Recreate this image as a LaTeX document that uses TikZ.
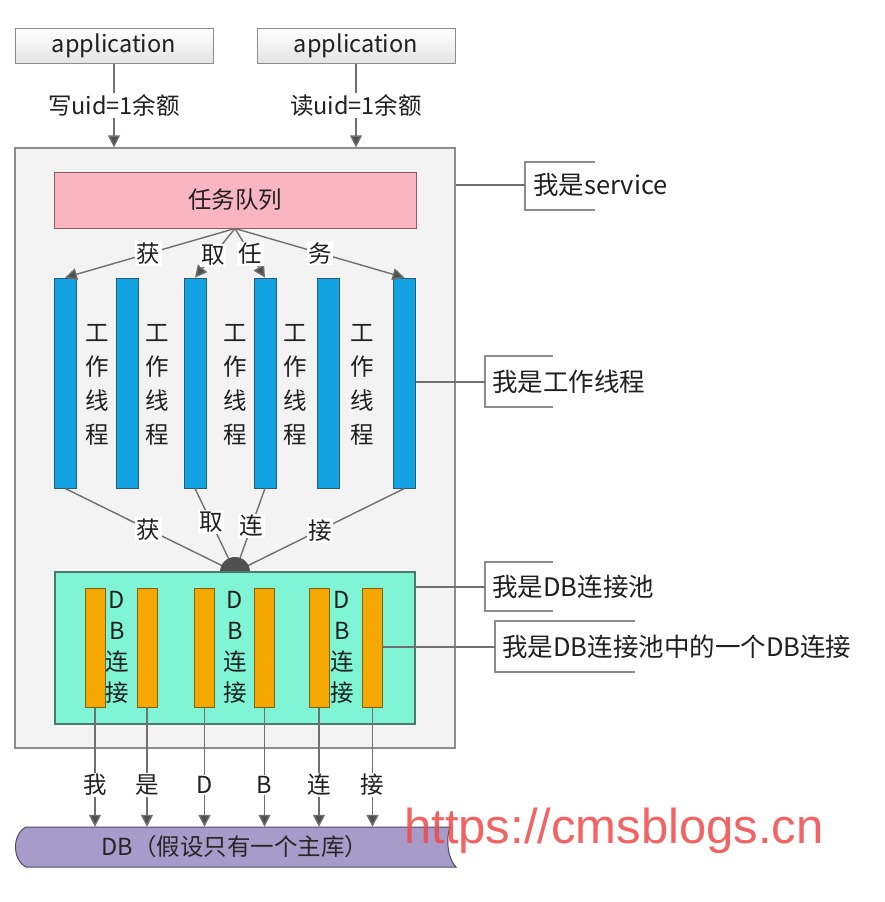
\documentclass[tikz,border=0pt]{standalone}
\usepackage{fontspec}
\setmainfont{Noto Sans CJK SC}
\newfontfamily\wmfont{Liberation Sans}
\usetikzlibrary{arrows.meta,calc}
\definecolor{svcfill}{HTML}{F3F3F3}
\definecolor{svcborder}{HTML}{8C8C8C}
\definecolor{appgray}{HTML}{E4E4E4}
\definecolor{queuefill}{HTML}{F9B5C1}
\definecolor{queueborder}{HTML}{8B5A64}
\definecolor{barblue}{HTML}{14A3E2}
\definecolor{bluedark}{HTML}{25607A}
\definecolor{poolfill}{HTML}{80F5D6}
\definecolor{poolborder}{HTML}{4D7A6E}
\definecolor{barorange}{HTML}{F5A800}
\definecolor{orangedark}{HTML}{7A6020}
\definecolor{dbpurple}{HTML}{A79CC9}
\definecolor{dbborder}{HTML}{4F4A66}
\definecolor{linegray}{HTML}{707070}
\definecolor{hubgray}{HTML}{505050}
\definecolor{txt}{HTML}{202020}
\definecolor{wmred}{HTML}{F04848}
\begin{document}
\begin{tikzpicture}[x=1pt,y=-1pt,
  font=\fontsize{23.5}{28}\selectfont, text=txt,
  appbox/.style={draw=svcborder, line width=1pt, top color=white, bottom color=appgray, minimum width=198pt, minimum height=35pt, inner sep=0pt},
  conn/.style={draw=linegray, line width=1.4pt},
  arr/.style={conn, -{Triangle[width=12pt,length=12pt,fill=hubgray]}},
  lbl/.style={fill=white, inner sep=1.5pt},
  bluebar/.style={draw=bluedark, line width=0.8pt, fill=barblue, minimum width=22pt, minimum height=210pt, inner sep=0pt},
  orangebar/.style={draw=orangedark, line width=0.8pt, fill=barorange, minimum width=20pt, minimum height=119pt, inner sep=0pt},
  vtext/.style={align=center, inner sep=0pt, font=\fontsize{23.5}{34}\selectfont},
  dtext/.style={align=center, inner sep=0pt, font=\fontsize{23.5}{31}\selectfont},
  note/.style={anchor=west, inner sep=0pt, font=\fontsize{25.5}{30}\selectfont},
  bracket/.style={draw=svcborder, line width=1.3pt}
]
\useasboundingbox (0,0) rectangle (884,902);
\fill[white] (0,0) rectangle (884,902);

% service box
\node[draw=svcborder, line width=1.2pt, fill=svcfill, minimum width=440pt, minimum height=600pt, inner sep=0pt] (svc) at (235,448) {};

% applications
\node[appbox] (app1) at (114,45.5) {application};
\node[appbox] (app2) at (356,45.5) {application};
\draw[arr] (app1.south) -- (app1.south |- svc.north) node[lbl,pos=0.5] {写uid=1余额};
\draw[arr] (app2.south) -- (app2.south |- svc.north) node[lbl,pos=0.5] {读uid=1余额};

% task queue
\node[draw=queueborder, line width=1pt, fill=queuefill, minimum width=362pt, minimum height=56pt, inner sep=0pt] (queue) at (235,200) {任务队列};

% worker bars
\node[bluebar] (b1) at (65,383) {};
\node[bluebar] (b2) at (127,383) {};
\node[bluebar] (b3) at (195,383) {};
\node[bluebar] (b4) at (265,383) {};
\node[bluebar] (b5) at (328.5,383) {};
\node[bluebar] (b6) at (404.5,383) {};
\node[vtext] (w1) at (97,385) {工\\作\\线\\程};
\node[vtext] (w2) at (157,385) {工\\作\\线\\程};
\node[vtext] (w3) at (235,385) {工\\作\\线\\程};
\node[vtext] (w4) at (295,385) {工\\作\\线\\程};
\node[vtext] (w5) at (362,385) {工\\作\\线\\程};

% task arrows
\coordinate (qs) at (queue.south);
\draw[arr] (qs) -- (b1.north) node[lbl,pos=0.51] {获};
\draw[arr] (qs) -- (b3.north) node[lbl,pos=0.55] {取};
\draw[arr] (qs) -- (b4.north) node[lbl,pos=0.52] {任};
\draw[arr] (qs) -- (b6.north) node[lbl,pos=0.5] {务};

% connections to hub
\coordinate (hub) at (235,572);
\draw[conn] (b1.south) -- (hub) node[lbl,pos=0.49] {获};
\draw[conn] (b3.south) -- (hub) node[lbl,pos=0.4] {取};
\draw[conn] (b4.south) -- (hub) node[lbl,pos=0.45] {连};
\draw[conn] (b6.south) -- (hub) node[lbl,pos=0.5] {接};
\fill[hubgray] (hub) circle[radius=15pt];

% pool
\node[draw=poolborder, line width=1.2pt, fill=poolfill, minimum width=360pt, minimum height=152pt, inner sep=0pt] (pool) at (235,648) {};
\node[orangebar] (o1) at (95,647.5) {};
\node[orangebar] (o2) at (147,647.5) {};
\node[orangebar] (o3) at (204.5,647.5) {};
\node[orangebar] (o4) at (264.5,647.5) {};
\node[orangebar] (o5) at (319,647.5) {};
\node[orangebar] (o6) at (372.5,647.5) {};
\node[dtext] (d1) at (117,647) {D\\B\\连\\接};
\node[dtext] (d2) at (235,647) {D\\B\\连\\接};
\node[dtext] (d3) at (342,647) {D\\B\\连\\接};

% DB
\filldraw[fill=dbpurple, draw=dbborder, line width=1pt]
  (26,827) -- (450,827) .. controls (446,838) and (447,858) .. (456,867)
  -- (26,867) .. controls (12,860) and (12,834) .. (26,827) -- cycle;
\node[minimum width=440pt, minimum height=40pt, inner sep=0pt, text=black!85] (db) at (235,847) {DB（假设只有一个主库）};

\draw[arr] (o1.south) -- (o1.south |- db.north) node[lbl,pos=0.65] {我};
\draw[arr] (o2.south) -- (o2.south |- db.north) node[lbl,pos=0.65] {是};
\draw[arr] (o3.south) -- (o3.south |- db.north) node[lbl,pos=0.65] {D};
\draw[arr] (o4.south) -- (o4.south |- db.north) node[lbl,pos=0.65] {B};
\draw[arr] (o5.south) -- (o5.south |- db.north) node[lbl,pos=0.65] {连};
\draw[arr] (o6.south) -- (o6.south |- db.north) node[lbl,pos=0.65] {接};

% notes
\node[note] (n1) at (533,185) {我是service};
\draw[bracket] (595,162) -- (525,162) -- (525,210) -- (595,210);
\coordinate (k1) at (525,185);
\draw[conn] (svc.east |- n1.west) -- (k1);

\node[note] (n2) at (492,382) {我是工作线程};
\draw[bracket] (553,356) -- (485,356) -- (485,407) -- (553,407);
\coordinate (k2) at (485,382);
\draw[conn] (b6.east |- n2.west) -- (k2);

\node[note] (n3) at (492,587) {我是DB连接池};
\draw[bracket] (553,562) -- (485,562) -- (485,611) -- (553,611);
\coordinate (k3) at (485,587);
\draw[conn] (pool.east |- n3.west) -- (k3);

\node[note] (n4) at (502,647) {我是DB连接池中的一个DB连接};
\draw[bracket] (635,621) -- (495,621) -- (495,672) -- (635,672);
\coordinate (k4) at (495,647);
\draw[conn] (o6.east |- n4.west) -- (k4);

% watermark
\node[anchor=base west, inner sep=0pt, text=wmred, text opacity=0.85, font=\wmfont\fontsize{49}{49}\selectfont] (wm) at (404,843) {https://cmsblogs.cn};
\end{tikzpicture}
\end{document}
